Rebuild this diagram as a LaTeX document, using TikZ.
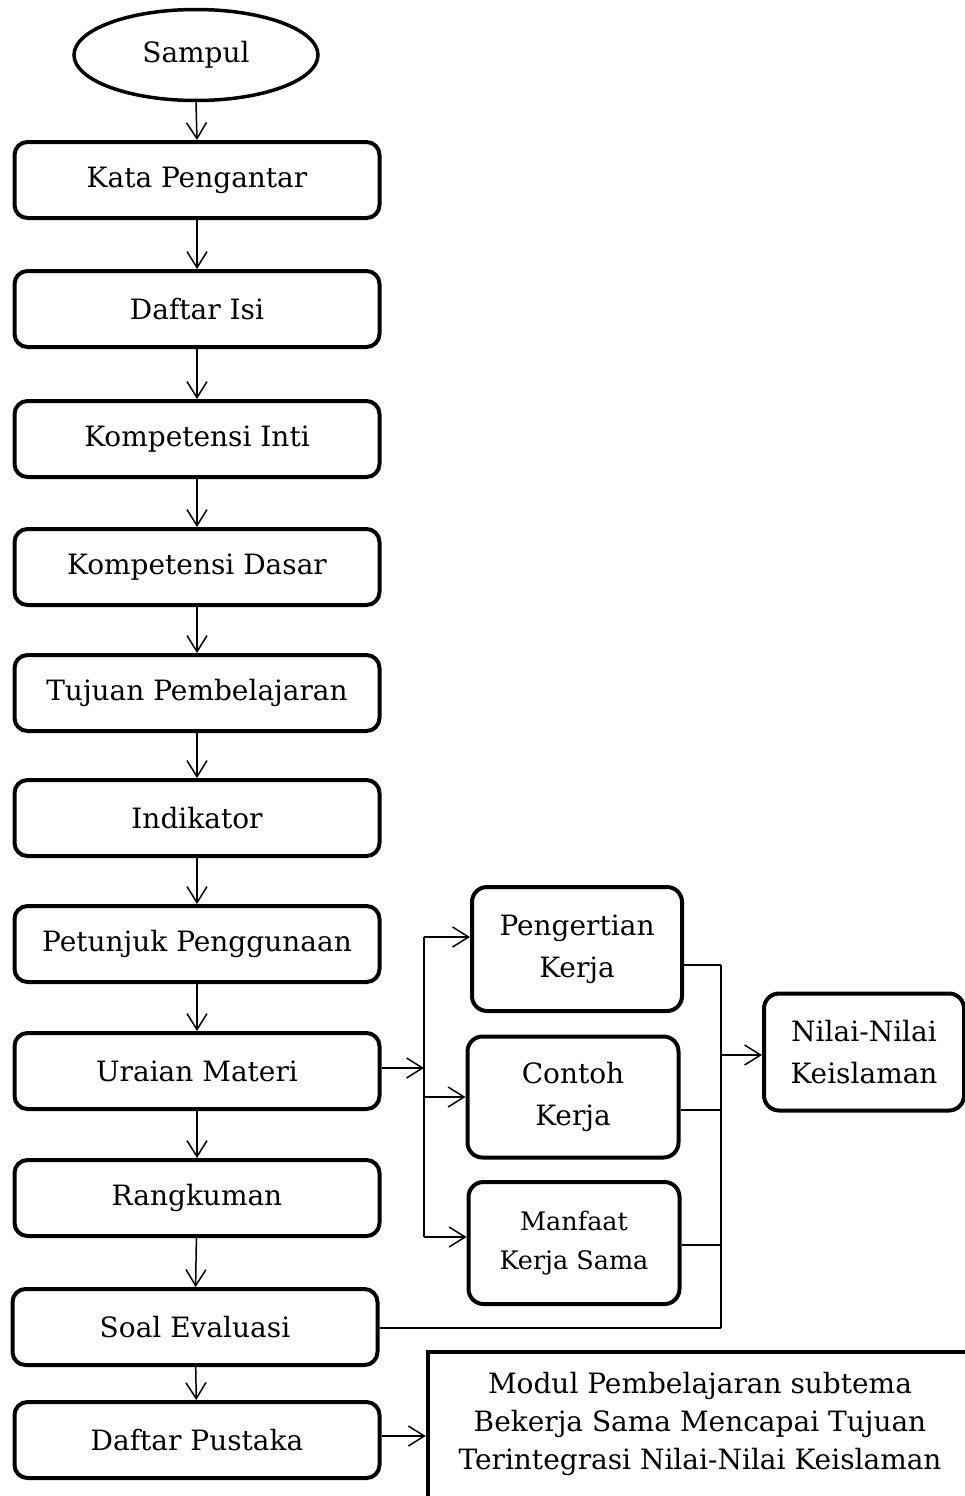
\documentclass[tikz,border=0pt]{standalone}
\usepackage{fontspec}
\setmainfont{DejaVu Serif}
\usetikzlibrary{arrows.meta,shapes.geometric}
\begin{document}
\begin{tikzpicture}[x=1pt,y=-1pt,
  box/.style={draw, line width=4pt, rounded corners=13pt, minimum width=365pt, minimum height=76pt,
    inner sep=0pt, font=\fontsize{28}{32}\selectfont},
  sbox/.style={draw, line width=4pt, rounded corners=15pt, align=center, inner sep=0pt,
    font=\fontsize{28}{42}\selectfont},
  conn/.style={line width=1.5pt},
  arr/.style={conn, -{Straight Barb[length=16pt,width=20pt,line width=1.5pt]}}
]
\useasboundingbox (0,0) rectangle (965,1496);
\clip (0,0) rectangle (965,1496);

% main column
\node[draw, ellipse, line width=3.5pt, minimum width=244pt, minimum height=91pt, inner sep=0pt,
  font=\fontsize{28}{32}\selectfont] (sampul) at (196,55) {Sampul};
\node[box] (kata) at (197,180) {Kata Pengantar};
\node[box] (isi) at (197,309) {Daftar Isi};
\node[box] (ki) at (197,439) {Kompetensi Inti};
\node[box] (kd) at (197,567) {Kompetensi Dasar};
\node[box] (tujuan) at (197,693) {Tujuan Pembelajaran};
\node[box] (indikator) at (197,818) {Indikator};
\node[box] (petunjuk) at (197,944) {Petunjuk Penggunaan};
\node[box] (uraian) at (197,1071) {Uraian Materi};
\node[box] (rangkuman) at (197,1198) {Rangkuman};
\node[box] (soal) at (195,1327) {Soal Evaluasi};
\node[box] (pustaka) at (197,1440) {Daftar Pustaka};

% right cluster
\node[sbox, minimum width=210pt, minimum height=124pt] (pengertian) at (577,949) {Pengertian\\Kerja};
\node[sbox, minimum width=211pt, minimum height=121pt] (contoh) at (573,1097) {Contoh\\Kerja};
\node[sbox, minimum width=211pt, minimum height=122pt, font=\fontsize{25.5}{39}\selectfont] (manfaat) at (574,1243) {Manfaat\\Kerja Sama};
\node[sbox, minimum width=200pt, minimum height=117pt] (nilai) at (864,1052) {Nilai-Nilai\\Keislaman};
\node[draw, line width=4.5pt, minimum width=544pt, minimum height=160pt, inner sep=0pt] (modulbox) at (700,1432) {};
\node[align=center, font=\fontsize{28}{38}\selectfont] (modul) at (700,1424)
  {Modul Pembelajaran subtema\\Bekerja Sama Mencapai Tujuan\\Terintegrasi Nilai-Nilai Keislaman};

% vertical arrows
\draw[arr] (sampul.south) -- (kata.north);
\draw[arr] (kata) -- (isi);
\draw[arr] (isi) -- (ki);
\draw[arr] (ki) -- (kd);
\draw[arr] (kd) -- (tujuan);
\draw[arr] (tujuan) -- (indikator);
\draw[arr] (indikator) -- (petunjuk);
\draw[arr] (petunjuk) -- (uraian);
\draw[arr] (uraian) -- (rangkuman);
\draw[arr] (rangkuman) -- (soal);
\draw[arr] (soal) -- (pustaka);

% branch from Uraian Materi
\coordinate (bx) at (424,1068);
\coordinate (btop) at (424,937);
\coordinate (bbot) at (424,1237);
\draw[arr] (uraian.east |- bx) -- (bx);
\draw[conn] (btop) -- (bbot);
\draw[arr] (btop) -- (pengertian.west |- btop);
\draw[arr] (424,1097) -- (contoh.west |- 0,1097);
\draw[arr] (bbot) -- (manfaat.west |- bbot);

% merge to Nilai-Nilai Keislaman
\coordinate (mtop) at (721,965);
\coordinate (mbot) at (721,1328);
\coordinate (mmid) at (721,1055);
\draw[conn] (pengertian.east |- mtop) -- (mtop);
\draw[conn] (contoh.east |- 0,1110) -- (721,1110);
\draw[conn] (manfaat.east |- 0,1245) -- (721,1245);
\draw[conn] (soal.east |- mbot) -- (mbot);
\draw[conn] (mtop) -- (mbot);
\draw[arr] (mmid) -- (nilai.west |- mmid);

% to Modul box
\draw[arr] (pustaka.east |- 0,1436) -- (modulbox.west |- 0,1436);
\end{tikzpicture}
\end{document}
